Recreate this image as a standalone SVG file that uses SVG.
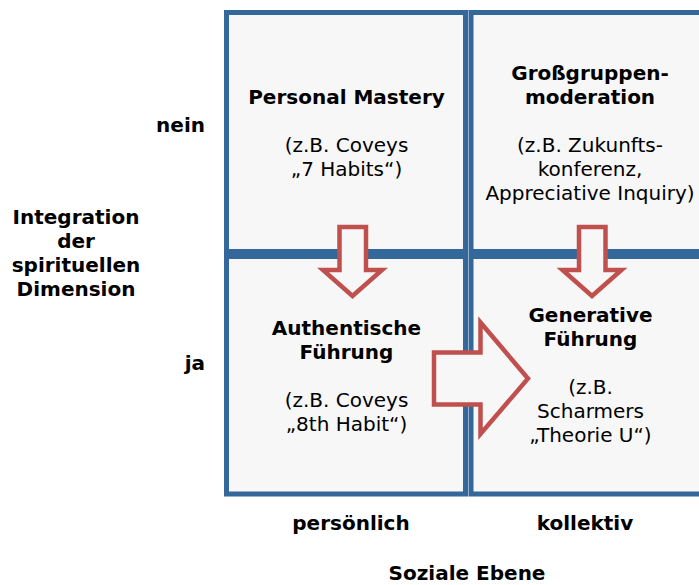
<svg xmlns="http://www.w3.org/2000/svg" width="699" height="585" viewBox="0 0 699 585">
  <style>
    .cell { fill: #f7f7f7; stroke: #34679a; stroke-width: 5; }
    .arrow { fill: #f7f7f7; stroke: #c0504d; stroke-width: 4.5; stroke-linejoin: miter; }
    text { font-family: "DejaVu Sans", Verdana, sans-serif; font-size: 20px; fill: #000; text-anchor: middle; }
    .b { font-weight: bold; }
    .r { text-anchor: end; }
  </style>
  <rect width="699" height="585" fill="#ffffff"/>

  <!-- quadrant cells -->
  <g id="personal-mastery">
    <rect class="cell" x="226.5" y="12.5" width="239" height="239"/>
    <text class="b" x="346.5" y="104">Personal Mastery</text>
    <text x="346.5" y="152">(z.B. Coveys</text>
    <text x="346.5" y="176">„7 Habits“)</text>
  </g>
  <g id="grossgruppenmoderation">
    <rect class="cell" x="471" y="12.5" width="240" height="239"/>
    <text class="b" x="590" y="80">Großgruppen-</text>
    <text class="b" x="590" y="104">moderation</text>
    <text x="590" y="152">(z.B. Zukunfts-</text>
    <text x="590" y="176">konferenz,</text>
    <text x="590" y="200">Appreciative Inquiry)</text>
  </g>
  <g id="authentische-fuehrung">
    <rect class="cell" x="226.5" y="256.5" width="239" height="237.5"/>
    <text class="b" x="346.5" y="335">Authentische</text>
    <text class="b" x="346.5" y="359">Führung</text>
    <text x="346.5" y="407">(z.B. Coveys</text>
    <text x="346.5" y="431">„8th Habit“)</text>
  </g>
  <g id="generative-fuehrung">
    <rect class="cell" x="471" y="256.5" width="240" height="237.5"/>
    <text class="b" x="590.5" y="322">Generative</text>
    <text class="b" x="590.5" y="346">Führung</text>
    <text x="590.5" y="394">(z.B.</text>
    <text x="590.5" y="418">Scharmers</text>
    <text x="590.5" y="442">„Theorie U“)</text>
  </g>

  <!-- block arrows between quadrants -->
  <g id="connectors">
    <path class="arrow" d="M339.5,227 L366,227 L366,270 L382,270 L352.5,296 L323,270 L339.5,270 Z"/>
    <path class="arrow" d="M579,227 L605.5,227 L605.5,270 L621.5,270 L592,296 L562.5,270 L579,270 Z"/>
    <path class="arrow" d="M434,352.5 L480.5,352.5 L480.5,322.5 L528,378.5 L480.5,434 L480.5,404.5 L434,404.5 Z"/>
  </g>

  <!-- axis labels -->
  <g id="axis-labels">
    <text class="b r" x="205" y="132">nein</text>
    <text class="b r" x="205" y="370">ja</text>
    <text class="b" x="76" y="224">Integration</text>
    <text class="b" x="76" y="248">der</text>
    <text class="b" x="76" y="272">spirituellen</text>
    <text class="b" x="76" y="296">Dimension</text>
    <text class="b" x="351" y="530">persönlich</text>
    <text class="b" x="585" y="530">kollektiv</text>
    <text class="b" x="467" y="580">Soziale Ebene</text>
  </g>
</svg>
